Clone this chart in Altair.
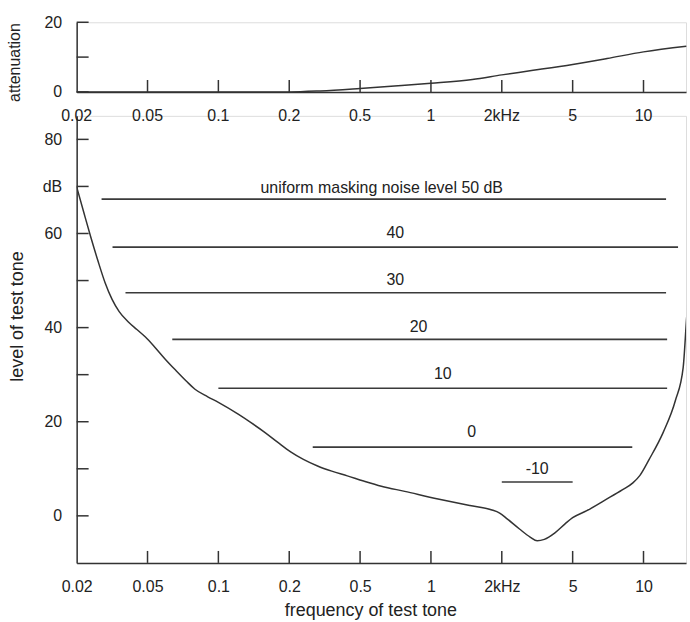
import altair as alt
import pandas as pd

# ---- axis tick frequencies (kHz) and their labels (equally spaced on the original figure)
TICK_F = [0.02, 0.05, 0.1, 0.2, 0.5, 1, 2, 5, 10, 20]
TICK_LABELS = ["0.02", "0.05", "0.1", "0.2", "0.5", "1", "2kHz", "5", "10"]

# ---- top panel: attenuation (dB) vs frequency (kHz)
ATT_F = [0.02, 0.2, 0.3, 0.5, 0.7, 1.0, 1.5, 2.0, 3.0, 5.0, 7.0, 10.0, 15.2]
ATT_DB = [0, 0, 0.3, 1.0, 1.7, 2.5, 3.6, 4.9, 6.2, 7.9, 9.6, 11.5, 13.1]

# ---- bottom panel: threshold curve (level of test tone, dB) vs frequency (kHz)
THR_F = [0.02, 0.02192, 0.02402, 0.02633, 0.02885, 0.03162, 0.03466, 0.03903, 0.04358, 0.04867,
         0.05359, 0.05946, 0.06598, 0.0732, 0.07955, 0.09013, 0.1, 0.1214, 0.1376, 0.1569,
         0.179, 0.2037, 0.2402, 0.2885, 0.3466, 0.4238, 0.5176, 0.6156, 0.7738, 1.0718,
         1.4641, 1.8025, 1.9588, 2.152, 2.515, 2.885, 3.162, 3.466, 3.976, 4.563,
         5.0, 5.743, 6.831, 8.123, 9.013, 9.659, 10.57, 12.14, 13.66, 14.74,
         15.26, 15.58]
THR_DB = [69.9, 64.5, 59.2, 54.2, 49.6, 46.0, 43.4, 41.2, 39.6, 38.0,
          35.9, 33.3, 30.9, 28.6, 26.9, 25.3, 24.1, 21.6, 19.8, 17.8,
          15.6, 13.6, 12.0, 10.6, 9.5, 8.5, 7.4, 6.3, 5.2, 3.6,
          2.2, 1.3, 0.6, -0.7, -2.8, -4.5, -5.3, -5.0, -3.6, -1.6,
          -0.4, 1.1, 3.3, 5.5, 7.0, 8.6, 12.0, 17.8, 24.5, 31.5,
          42.3, 48.0]

# ---- masked-threshold lines for uniform masking noise
MASK_LEVEL = [67.3, 57.1, 47.4, 37.5, 27.1, 14.6, 7.2]
MASK_F_START = [0.0276, 0.0318, 0.0376, 0.0637, 0.1, 0.271, 2.0]
MASK_F_END = [12.47, 14.02, 12.47, 12.6, 12.6, 8.96, 5.0]

# ---- line labels
LABEL_TEXT = ["uniform masking noise level 50 dB", "40", "30", "20", "10", "0", "-10"]
LABEL_F = [0.618, 0.706, 0.706, 0.886, 1.123, 1.489, 3.16]
LABEL_DB = [68.6, 59.0, 49.1, 39.1, 29.1, 16.7, 8.9]

BOT_Y_TICKS = [0, 10, 20, 30, 40, 50, 60, 70, 80]
BOT_Y_LABELS = [0, 20, 40, 60, 70, 80]
TOP_Y_TICKS = [0, 10, 20]

AX = "#333333"
INK = "#222222"
W = 612
H_TOP = 70
H_BOT = 449
FONT = "Liberation Sans"


def pos_expr(field):
    parts = []
    n = len(TICK_F)
    for i in range(n - 1):
        lo, hi = TICK_F[i], TICK_F[i + 1]
        seg = f"({i} + log(datum.{field}/{lo})/log({hi / lo}))"
        if i < n - 2:
            parts.append(f"datum.{field} < {hi} ? {seg} : ")
        else:
            parts.append(seg)
    return "".join(parts)


label_arr = "[" + ",".join(f"'{s}'" for s in TICK_LABELS) + "]"
xscale = alt.Scale(domain=[0, 8.6], nice=False, zero=False)

# ---------------- top panel ----------------
att_df = pd.DataFrame({"f": ATT_F, "v": ATT_DB})
xt_df = pd.DataFrame({"f": TICK_F[1:9]})
xlab_df = pd.DataFrame({"f": TICK_F[:9], "t": TICK_LABELS})
top_yt_df = pd.DataFrame({"v": TOP_Y_TICKS})

top_x_axis = alt.Axis(values=list(range(9)), labels=False, ticks=False, grid=False,
                      domainColor=AX, domainWidth=1.5, title=None)

top_y = alt.Y("v:Q", scale=alt.Scale(domain=[0, 20], nice=False),
              axis=alt.Axis(values=TOP_Y_TICKS, ticks=False, grid=False,
                            labelFont=FONT, labelFontSize=16, labelPadding=15,
                            labelColor=INK, domainColor=AX, domainWidth=1.5,
                            title="attenuation", titleFont=FONT, titleFontSize=16,
                            titleFontWeight="normal", titleColor=INK,
                            titleX=-62, titleY=40, titleAngle=270,
                            titleAlign="center", titleBaseline="middle"))

top_curve = alt.Chart(att_df).transform_calculate(p=pos_expr("f")).mark_line(
    color=AX, strokeWidth=1.5, interpolate="monotone"
).encode(x=alt.X("p:Q", scale=xscale, axis=top_x_axis), y=top_y)

top_xticks = alt.Chart(xt_df).transform_calculate(p=pos_expr("f")).mark_rule(
    color=AX, strokeWidth=1.5
).encode(x=alt.X("p:Q", scale=xscale), y=alt.value(H_TOP), y2=alt.value(H_TOP - 12))

top_yticks = alt.Chart(top_yt_df).mark_rule(color=AX, strokeWidth=1.5).encode(
    y=alt.Y("v:Q"), x=alt.value(0), x2=alt.value(12))

top = alt.layer(top_curve, top_xticks, top_yticks).properties(width=W, height=H_TOP)

# ---------------- bottom panel ----------------
thr_df = pd.DataFrame({"f": THR_F, "v": THR_DB})
mask_df = pd.DataFrame({"f1": MASK_F_START, "f2": MASK_F_END, "v": MASK_LEVEL})
lab_df = pd.DataFrame({"f": LABEL_F, "v": LABEL_DB, "t": LABEL_TEXT})
bot_yt_df = pd.DataFrame({"v": BOT_Y_TICKS})

bot_x_axis = alt.Axis(values=list(range(9)), labelExpr=f"{label_arr}[datum.value]",
                      ticks=False, grid=False, labelFlush=False, labelOverlap=False,
                      labelFont=FONT, labelFontSize=16, labelPadding=16, labelColor=INK,
                      domainColor=AX, domainWidth=1.5,
                      title="frequency of test tone", titleFont=FONT, titleFontSize=18,
                      titleFontWeight="normal", titleColor=INK, titlePadding=7,
                      titleX=295, titleAnchor="start", titleAlign="center")

bot_y = alt.Y("v:Q", scale=alt.Scale(domain=[-10, 85], nice=False, zero=False),
              axis=alt.Axis(values=BOT_Y_LABELS,
                            labelExpr="datum.value == 70 ? 'dB' : datum.label",
                            ticks=False, grid=False,
                            labelFont=FONT, labelFontSize=16, labelPadding=15,
                            labelColor=INK, domainColor=AX, domainWidth=1.5,
                            title="level of test tone", titleFont=FONT, titleFontSize=18,
                            titleFontWeight="normal", titleColor=INK,
                            titleX=-59, titleY=201, titleAngle=270,
                            titleAlign="center", titleBaseline="middle"))

bot_curve = alt.Chart(thr_df).transform_calculate(p=pos_expr("f")).mark_line(
    color=AX, strokeWidth=1.5, interpolate="monotone", clip=True
).encode(x=alt.X("p:Q", scale=xscale, axis=bot_x_axis), y=bot_y)

mask_lines = alt.Chart(mask_df).transform_calculate(
    p1=pos_expr("f1"), p2=pos_expr("f2")
).mark_rule(color="#3a3a3a", strokeWidth=1.6).encode(
    x=alt.X("p1:Q", scale=xscale), x2="p2:Q", y=alt.Y("v:Q"))

mask_text = alt.Chart(lab_df).transform_calculate(p=pos_expr("f")).mark_text(
    fontSize=16, color=INK, align="center", baseline="alphabetic", font=FONT
).encode(x=alt.X("p:Q", scale=xscale), y=alt.Y("v:Q"), text="t:N")

# frequency labels of the upper panel, drawn just above the lower panel
top_xlabels = alt.Chart(xlab_df).transform_calculate(p=pos_expr("f")).mark_text(
    fontSize=16, color=INK, align="center", baseline="middle", font=FONT
).encode(x=alt.X("p:Q", scale=xscale), y=alt.value(0), text="t:N")

bot_xticks = alt.Chart(xt_df).transform_calculate(p=pos_expr("f")).mark_rule(
    color=AX, strokeWidth=1.5
).encode(x=alt.X("p:Q", scale=xscale), y=alt.value(H_BOT), y2=alt.value(H_BOT - 12))

bot_yticks = alt.Chart(bot_yt_df).mark_rule(color=AX, strokeWidth=1.5).encode(
    y=alt.Y("v:Q"), x=alt.value(0), x2=alt.value(12))

bottom = alt.layer(bot_curve, mask_lines, mask_text, top_xlabels,
                   bot_xticks, bot_yticks).properties(width=W, height=H_BOT)

chart = alt.vconcat(top, bottom, spacing=24, bounds="flush").properties(
    padding={"left": 6, "top": 12, "right": 0, "bottom": 0},
    background="white",
).configure_view(strokeWidth=0, strokeOpacity=0).configure(font=FONT)

chart.save("out.html", embed_options={"renderer": "svg", "actions": False})
